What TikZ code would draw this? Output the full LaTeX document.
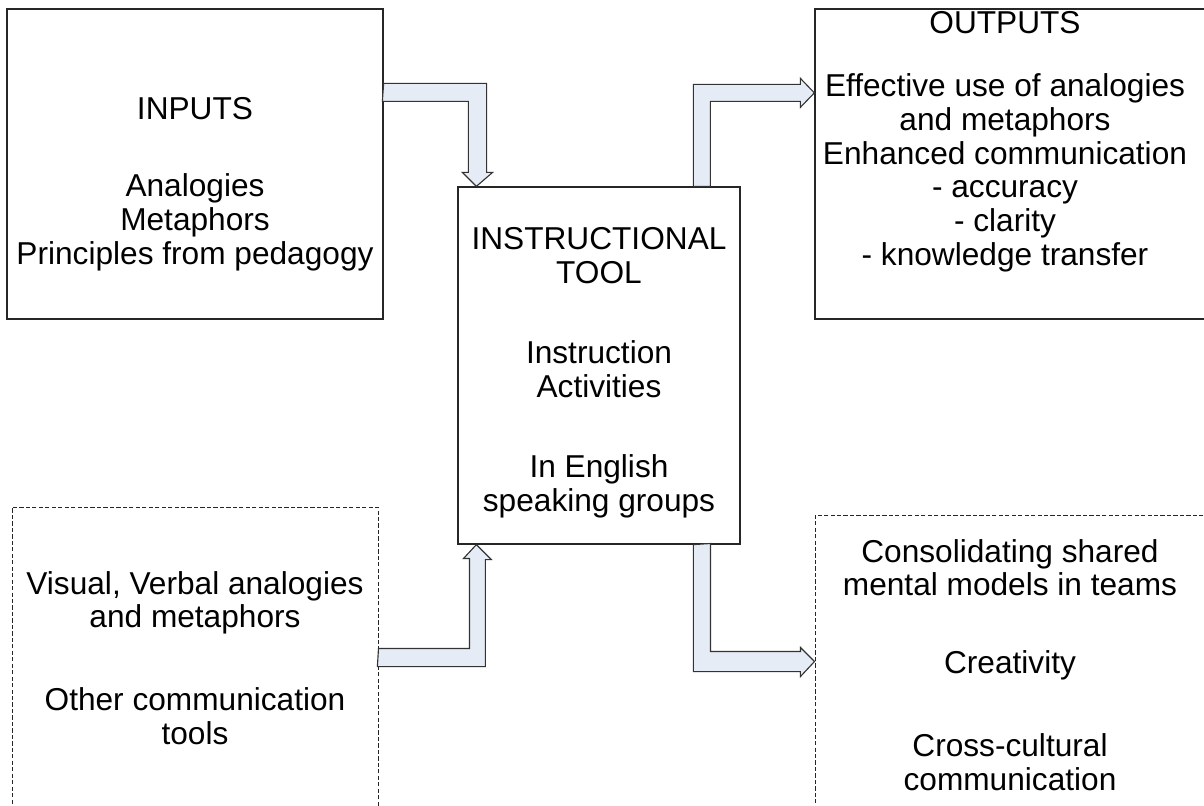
\documentclass[tikz,border=0pt]{standalone}
\usepackage{fontspec}
\setmainfont{Liberation Sans}
\usetikzlibrary{calc,fit}
\definecolor{arrowfill}{RGB}{230,236,246}
\newcommand{\boxfont}{\fontsize{22.5}{24}\selectfont}

\begin{document}
\begin{tikzpicture}[x=0.025cm, y=-0.025cm,
        box/.style={draw=black!85, line width=0.9pt, inner sep=0pt},
        dashbox/.style={box, line width=0.7pt, dash pattern=on 3pt off 1.6pt},
        txt/.style={anchor=north, inner sep=0pt, align=center, font=\boxfont},
        flow/.style={draw=black!80, line width=0.8pt, fill=arrowfill, line join=miter}]
        \useasboundingbox (0,0) rectangle (1204,806);
        \clip (0,0) rectangle (1204,806);

        % the five boxes
        \node[box, fit={(7,9) (383,319)}] (inputs) {};
        \node[box, fill=white, fit={(458,187) (740,544)}] (tool) {};
        \node[box, fit={(815,9) (1215,319)}] (outputs) {};
        \node[dashbox, fit={(12,507) (378,815)}] (other) {};
        \node[dashbox, fit={(815,515) (1215,815)}] (effects) {};

        % texts
        \node[txt] (inputstxt) at (195,97) {INPUTS\\[31pt]Analogies\\Metaphors\\Principles from pedagogy};
        \node[txt] (tooltxt) at (599,227) {INSTRUCTIONAL\\TOOL\\[33.5pt]Instruction\\Activities\\[33pt]In English\\speaking groups};
        \node[txt] (outputstxt) at (1005,11) {OUTPUTS\\[21pt]Effective use of analogies\\and metaphors\\Enhanced communication\\- accuracy\\- clarity\\- knowledge transfer};
        \node[txt] (othertxt) at (195,571) {Visual, Verbal analogies\\and metaphors\\[35pt]Other communication\\tools};
        \node[txt] (effectstxt) at (1010,539) {Consolidating shared\\mental models in teams\\[31pt]Creativity\\[35pt]Cross-cultural\\communication};

        % block arrows
        \coordinate (inTip) at ($(tool.north west)+(19,0)$);
        \coordinate (upTip) at ($(tool.south west)+(19,0)$);
        \coordinate (outTip) at ($(outputs.north west)+(0,84.5)$);
        \coordinate (effTip) at ($(effects.north west)+(0,147)$);

        \draw[flow] (inputs.north east) ++(0,75) -- ++(103,0) -- ++(0,89) -- ++(6,0) -- (inTip)
            -- ++(-14,-14) -- ++(6,0) -- ++(0,-71) -- ++(-86,0) -- cycle;
        \draw[flow] (tool.north west) ++(236,0) -- ++(0,-102) -- ++(107,0) -- ++(0,-6) -- (outTip)
            -- ++(-14,14.5) -- ++(0,-6) -- ++(-90,0) -- ++(0,85) -- cycle;
        \draw[flow] (other.north east) ++(0,142) -- ++(91,0) -- ++(0,-90) -- ++(-6,0) -- (upTip)
            -- ++(15,15) -- ++(-6,0) -- ++(0,107) -- ++(-108,0) -- cycle;
        \draw[flow] (tool.south west) ++(236,0) -- ++(0,127) -- ++(107,0) -- ++(0,5) -- (effTip)
            -- ++(-14,-14) -- ++(0,4) -- ++(-90,0) -- ++(0,-108) -- cycle;

    \end{tikzpicture}
\end{document}
